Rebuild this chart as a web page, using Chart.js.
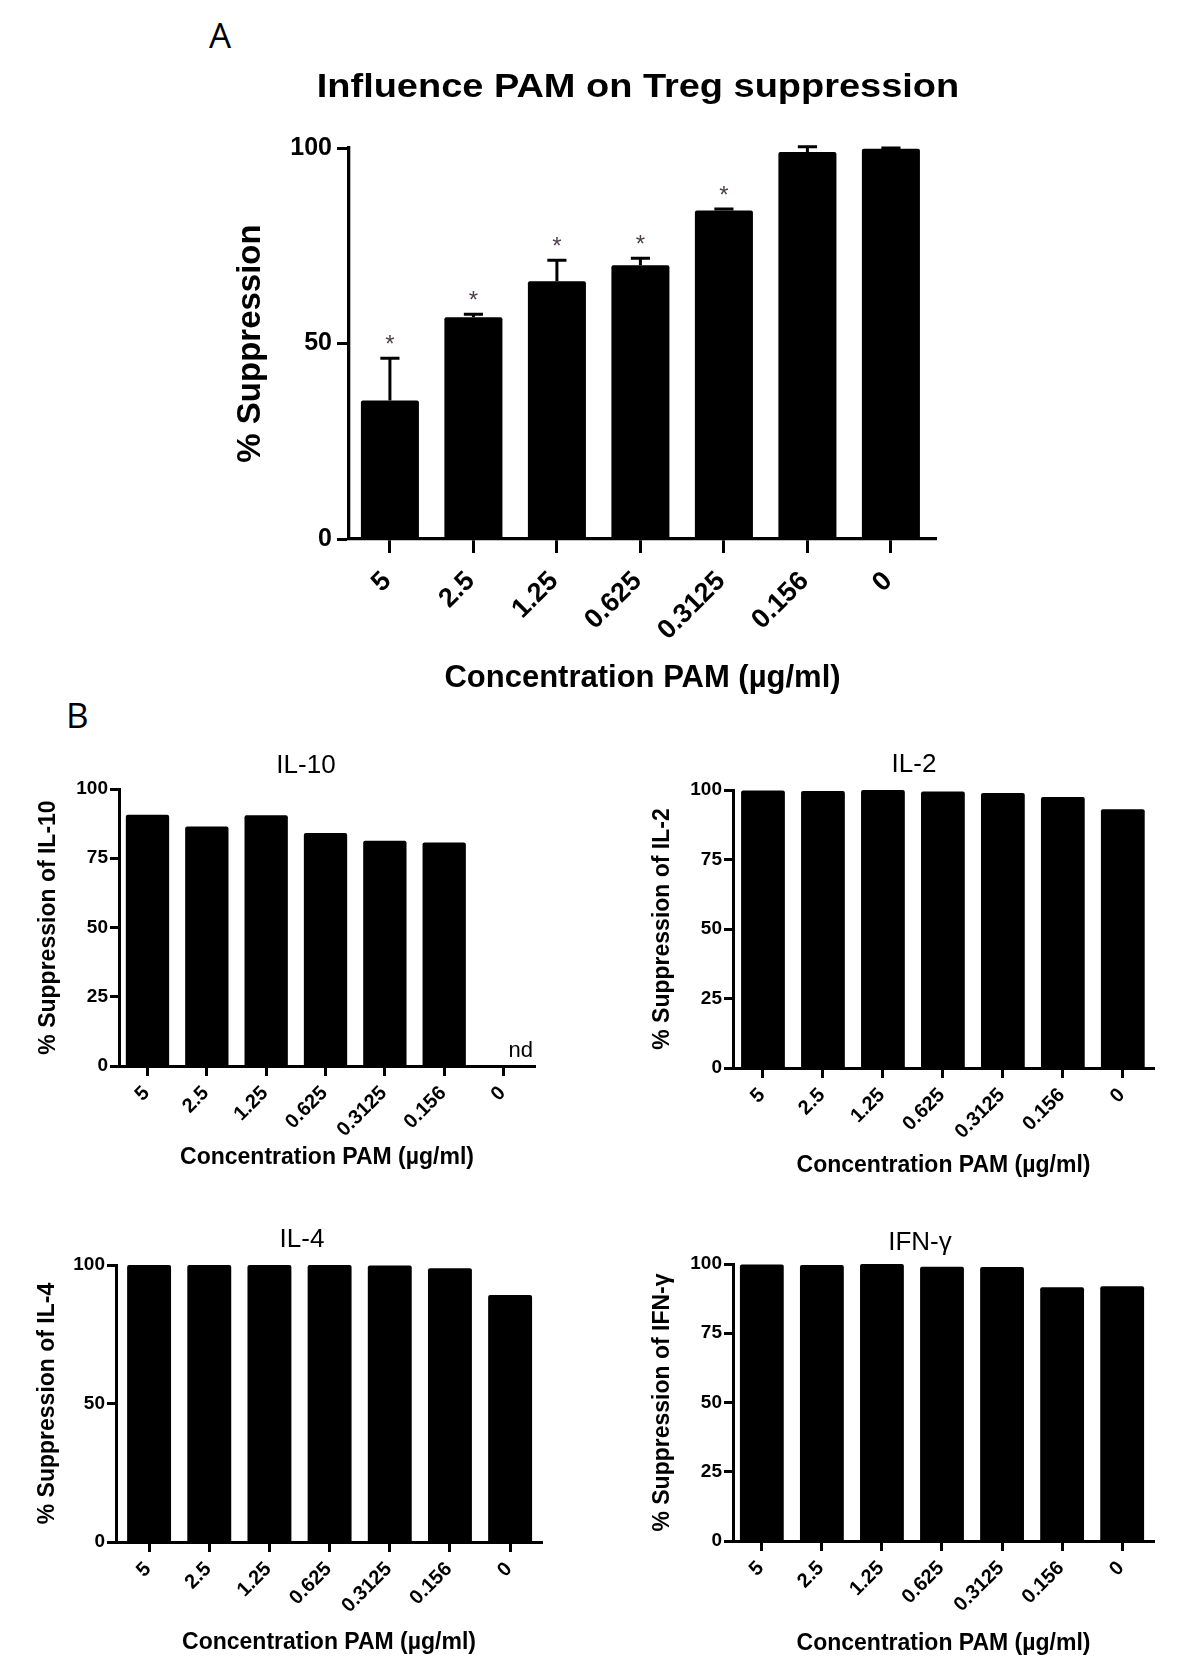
<!DOCTYPE html>
<html>
<head>
<meta charset="utf-8">
<script src="https://cdn.jsdelivr.net/npm/chart.js@4.4.1/dist/chart.umd.min.js"></script>
<style>
  html, body { margin: 0; padding: 0; background: #fff; }
  body { width: 1200px; height: 1659px; position: relative; overflow: hidden; }
  canvas { position: absolute; }
  .panel-letter { position: absolute; font-family: 'Open Sans', 'Liberation Sans', sans-serif; font-size: 35px; line-height: 35px; color: #000; }
</style>
</head>
<body>
<div class="panel-letter" style="left:209px;top:17px;">A</div>
<div class="panel-letter" style="left:66px;top:697px;">B</div>
<canvas id="cA"></canvas>
<canvas id="cIL10"></canvas>
<canvas id="cIL2"></canvas>
<canvas id="cIL4"></canvas>
<canvas id="cIFN"></canvas>
<script>
// ---------- DATA ----------
const categories = ['5', '2.5', '1.25', '0.625', '0.3125', '0.156', '0'];

// Panel A: Influence PAM on Treg suppression (mean, SEM, significance)
const tregSuppression = [35.4, 56.7, 65.9, 70.0, 84.0, 99.0, 99.8];
const tregSem = [10.8, 0.8, 5.4, 1.8, 0.4, 1.3, 0.2];
const tregSig = ['*', '*', '*', '*', '*', '', ''];

// Panel B: cytokine suppression
const il10Suppression = [90.7, 86.5, 90.5, 84.1, 81.3, 80.7, null];
const il10Notes = ['', '', '', '', '', '', 'nd'];
const il2Suppression = [99.8, 99.6, 100, 99.5, 98.9, 97.5, 93.1];
const il4Suppression = [100, 100, 100, 100, 99.8, 98.8, 89.2];
const ifngSuppression = [99.8, 99.6, 100, 99.0, 98.9, 91.6, 92.0];

const yTicksA = [0, 50, 100];
const yTicksQuarter = [0, 25, 50, 75, 100];
const yTicksHalf = [0, 50, 100];

const xTitleText = 'Concentration PAM (\u00b5g/ml)';

// ---------- CHART.JS ----------
Chart.defaults.font.family = "'Liberation Sans', Arial, sans-serif";
Chart.defaults.color = '#000';

const FAM = "'Liberation Sans', Arial, sans-serif";

const extras = {
  id: 'extras',
  afterDraw(chart, args, o) {
    const ctx = chart.ctx, xs = chart.scales.x, ys = chart.scales.y, ca = chart.chartArea;
    const meta = chart.getDatasetMeta(0);
    const vals = chart.data.datasets[0].data;
    ctx.save();
    // error bars + significance marks
    if (o.err) {
      o.err.forEach((e, i) => {
        const v = vals[i].y;
        if (e == null || v == null) return;
        const bar = meta.data[i];
        const x = bar.x;
        const y0 = ys.getPixelForValue(v);
        const y1 = ys.getPixelForValue(v + e);
        const hw = bar.width * o.capFrac / 2;
        ctx.strokeStyle = '#000';
        ctx.lineWidth = o.errWidth;
        ctx.beginPath();
        ctx.moveTo(x, y0); ctx.lineTo(x, y1);
        ctx.moveTo(x - hw, y1); ctx.lineTo(x + hw, y1);
        ctx.stroke();
        if (o.sig && o.sig[i]) {
          ctx.fillStyle = o.sigColor;
          ctx.font = o.sigFont;
          ctx.textAlign = 'center';
          ctx.textBaseline = 'alphabetic';
          ctx.fillText(o.sig[i], x, y1 - o.sigGap);
        }
      });
    }
    // rotated category labels
    if (o.labels) {
      ctx.fillStyle = '#000';
      ctx.font = o.labelFont;
      ctx.textAlign = 'right';
      ctx.textBaseline = 'middle';
      o.labels.forEach((t, i) => {
        const x = xs.getPixelForValue(i);
        ctx.save();
        ctx.translate(x + o.ldx, ca.bottom + o.ldy);
        ctx.rotate(-Math.PI / 4);
        ctx.fillText(t, 0, 0);
        ctx.restore();
      });
    }
    // notes such as "nd"
    if (o.notes) {
      ctx.fillStyle = '#000';
      ctx.font = o.noteFont;
      ctx.textAlign = 'left';
      ctx.textBaseline = 'alphabetic';
      o.notes.forEach((t, i) => {
        if (!t) return;
        ctx.fillText(t, xs.getPixelForValue(i) + o.noteDx, ca.bottom - o.noteDy);
      });
    }
    // panel title
    if (o.title) {
      ctx.fillStyle = '#000';
      ctx.font = o.title.font;
      ctx.textAlign = 'center';
      ctx.textBaseline = 'middle';
      ctx.save();
      ctx.translate(o.title.x, o.title.y);
      ctx.scale(o.title.sx || 1, 1);
      ctx.fillText(o.title.text, 0, 0);
      ctx.restore();
    }
    ctx.restore();
  }
};

function build(id, s) {
  const cv = document.getElementById(id);
  const cx = Math.round(s.yTitleX - s.ytSize * 1.2 / 2);
  const cbottom = Math.round(s.xTitleY + s.xtSize * 1.2 / 2);
  const cw = s.cright - cx, ch = cbottom - s.cy;
  cv.width = cw; cv.height = ch;
  cv.style.left = cx + 'px'; cv.style.top = s.cy + 'px';
  cv.style.width = cw + 'px'; cv.style.height = ch + 'px';

  const ex = Object.assign({}, s.extras);
  if (ex.title) ex.title = Object.assign({}, ex.title, { x: ex.title.x - cx, y: ex.title.y - s.cy });

  return new Chart(cv, {
    type: 'bar',
    data: {
      datasets: [{
        data: s.values.map((v, i) => ({ x: i, y: v })),
        backgroundColor: '#000',
        borderWidth: 0,
        borderRadius: s.radius,
        borderSkipped: 'start',
        barPercentage: s.barPct,
        categoryPercentage: 1
      }]
    },
    options: {
      responsive: false,
      animation: false,
      devicePixelRatio: 1,
      events: [],
      layout: { padding: { left: 0, top: s.T - s.cy, right: s.cright - s.R, bottom: 0 } },
      plugins: {
        legend: { display: false },
        tooltip: { enabled: false },
        title: { display: false },
        extras: ex
      },
      scales: {
        x: {
          type: 'linear',
          min: s.xmin, max: s.xmax,
          offset: false,
          afterBuildTicks: sc => { sc.ticks = categories.map((c, i) => ({ value: i })); },
          afterFit: sc => { sc.height = cbottom - s.B; },
          ticks: { display: false },
          grid: { offset: false, drawOnChartArea: false, drawTicks: true, tickLength: s.xTickLen, tickWidth: s.tickW, tickColor: '#000' },
          border: { display: true, color: '#000', width: s.axisW },
          title: { display: true, text: xTitleText, color: '#000', padding: 0,
                   font: { family: FAM, size: s.xtSize, weight: 'bold', lineHeight: 1.2 } }
        },
        y: {
          type: 'linear',
          min: 0, max: 100,
          afterBuildTicks: sc => { sc.ticks = s.yTicks.map(v => ({ value: v })); },
          afterFit: sc => { sc.width = s.L - cx; },
          ticks: { color: '#000', padding: s.ytkPad, font: { family: FAM, size: s.ytkSize, weight: 'bold' } },
          grid: { drawOnChartArea: false, drawTicks: true, tickLength: s.yTickLen, tickWidth: s.tickW, tickColor: '#000' },
          border: { display: true, color: '#000', width: s.axisW },
          title: { display: true, text: s.yTitle, color: '#000', padding: 0,
                   font: { family: FAM, size: s.ytSize, weight: 'bold', lineHeight: 1.2 } }
        }
      }
    },
    plugins: [extras]
  });
}

// Panel A
build('cA', {
  values: tregSuppression,
  yTitle: '% Suppression', yTitleX: 251, ytSize: 33,
  xTitleY: 678, xtSize: 31,
  L: 349, R: 936, T: 148, B: 539, cy: 50, cright: 990,
  xmin: -0.49, xmax: 6.54, yTicks: yTicksA,
  ytkSize: 25, ytkPad: 5, yTickLen: 12, xTickLen: 14, tickW: 3, axisW: 3.3,
  barPct: 0.695, radius: 2,
  extras: {
    err: tregSem, sig: tregSig, capFrac: 0.33, errWidth: 3,
    sigFont: '24px ' + FAM, sigColor: '#4d3d4d', sigGap: 6,
    labels: categories, labelFont: 'bold 27px ' + FAM, ldx: -2.9, ldy: 37.9,
    title: { text: 'Influence PAM on Treg suppression', font: 'bold 33px ' + FAM, x: 638, y: 88, sx: 1.15 }
  }
});

const commonB = {
  ytSize: 23, xtSize: 23, ytkSize: 19, ytkPad: 2, yTickLen: 9, xTickLen: 10, tickW: 3, axisW: 3,
  barPct: 0.73, radius: 2
};
const labB = { labels: categories, labelFont: 'bold 20px ' + FAM, ldx: -1.1, ldy: 24.1 };

build('cIL10', Object.assign({}, commonB, {
  values: il10Suppression, yTitle: '% Suppression of IL-10', yTitleX: 49, xTitleY: 1157,
  L: 119, R: 535, T: 789, B: 1066, cy: 740, cright: 580, xmin: -0.48, xmax: 6.53, yTicks: yTicksQuarter,
  extras: Object.assign({}, labB, {
    notes: il10Notes, noteFont: '22px ' + FAM, noteDx: 5, noteDy: 9,
    title: { text: 'IL-10', font: '26px ' + FAM, x: 306, y: 766 }
  })
}));

build('cIL2', Object.assign({}, commonB, {
  values: il2Suppression, yTitle: '% Suppression of IL-2', yTitleX: 663, xTitleY: 1165,
  L: 733, R: 1154, T: 790, B: 1068, cy: 740, cright: 1195, xmin: -0.5, xmax: 6.52, yTicks: yTicksQuarter,
  extras: Object.assign({}, labB, {
    title: { text: 'IL-2', font: '26px ' + FAM, x: 914, y: 765 }
  })
}));

build('cIL4', Object.assign({}, commonB, {
  values: il4Suppression, yTitle: '% Suppression of IL-4', yTitleX: 48, xTitleY: 1642,
  L: 116, R: 542, T: 1265, B: 1542, cy: 1212, cright: 585, xmin: -0.55, xmax: 6.53, yTicks: yTicksHalf,
  extras: Object.assign({}, labB, {
    title: { text: 'IL-4', font: '26px ' + FAM, x: 302, y: 1240 }
  })
}));

build('cIFN', Object.assign({}, commonB, {
  values: ifngSuppression, yTitle: '% Suppression of IFN-\u03b3', yTitleX: 663, xTitleY: 1643,
  L: 733, R: 1154, T: 1264, B: 1541, cy: 1212, cright: 1195, xmin: -0.48, xmax: 6.53, yTicks: yTicksQuarter,
  extras: Object.assign({}, labB, {
    title: { text: 'IFN-\u03b3', font: '26px ' + FAM, x: 920, y: 1243 }
  })
}));
</script>
</body>
</html>
